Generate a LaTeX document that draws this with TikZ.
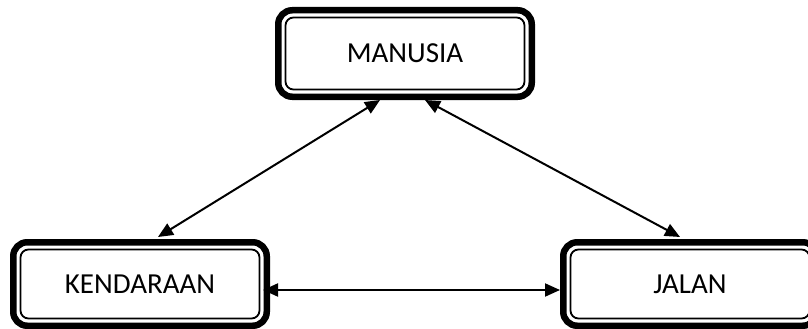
\documentclass[tikz,border=0pt]{standalone}
\usepackage{fontspec}
\setmainfont{Carlito}
\usetikzlibrary{arrows.meta,calc}

\tikzset{
  boxframe/.style={draw=black, line width=6.5pt, rounded corners=14pt,
    outer sep=0pt, inner sep=0pt, minimum width=253.5pt, fill=white,
    font=\fontsize{29}{34}\selectfont},
  innerframe/.style={draw=black, line width=1.8pt, rounded corners=8pt},
  link/.style={line width=2pt, {Triangle[length=15pt,width=13pt]}-{Triangle[length=15pt,width=13pt]}}
}

\begin{document}
\begin{tikzpicture}[x=1pt,y=-1pt]
  \fill[white] (0,0) rectangle (808,329);
  \useasboundingbox (0,0) rectangle (808,329);

  % the three entities
  \node[boxframe, minimum height=86.5pt] (man) at (405,53.5) {MANUSIA};
  \node[boxframe, minimum height=83.5pt] (ken) at (140,284) {KENDARAAN};
  \node[boxframe, minimum height=83.5pt] (jal) at (690,284) {JALAN};

  % thin inner frame inside each thick border
  \foreach \n in {man,ken,jal}
    \draw[innerframe] ($(\n.north west)+(7.25,7.25)$) rectangle ($(\n.south east)+(-7.25,-7.25)$);

  % two-way relations
  \draw[link] ($(man.south)+(-25,3.25)$) -- ($(ken.north)+(18,-5.25)$);
  \draw[link] ($(man.south)+(20,3.25)$) -- ($(jal.north)+(-10,-5.25)$);
  \draw[link] ($(ken.east)+(-3.75,6)$) -- ($(jal.west)+(-3.25,6)$);
\end{tikzpicture}
\end{document}
